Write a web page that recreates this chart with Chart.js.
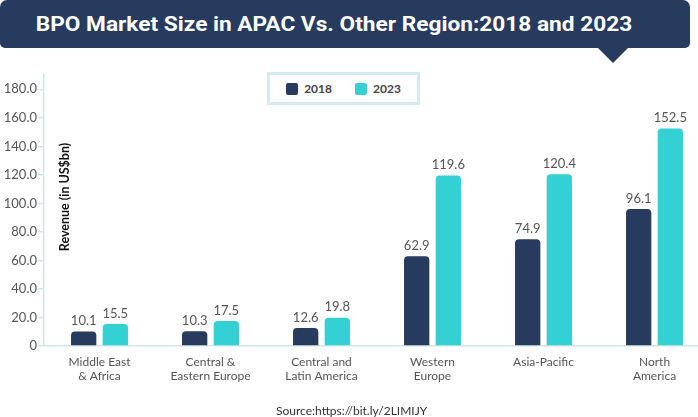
<!DOCTYPE html>
<html>
<head>
<meta charset="utf-8">
<script src="https://cdn.jsdelivr.net/npm/chart.js@4"></script>
<style>
  body { margin: 0; width: 698px; height: 417px; overflow: hidden; background: #fff; position: relative; font-family: Lato, sans-serif; }
  #banner { position: absolute; left: 0; top: 0; width: 690px; height: 48px; background: #263b5e; border-radius: 7px 7px 5px 5px; }
  #banner:after { content: ''; position: absolute; left: 598px; top: 48px; border-left: 15px solid transparent; border-right: 15px solid transparent; border-top: 15px solid #263b5e; }
  #titulo { position: absolute; left: 334px; top: 24px; transform-origin: center; white-space: nowrap; color: #fff; font: bold 21px Roboto, sans-serif; }
  #wrap { position: absolute; left: 0; top: 0; width: 712px; height: 417px; }
  #leyenda { position: absolute; left: 267px; top: 72px; width: 147px; height: 27px; border: 3px solid #d3eaf0; background: #fff;
             display: flex; align-items: center; justify-content: center; gap: 23px; font: bold 12px Lato, sans-serif; color: #444; }
  #leyenda span.item { display: flex; align-items: center; gap: 6px; }
  #leyenda span.caja { width: 12px; height: 12px; border-radius: 2px; display: inline-block; }
  #fuente { position: absolute; left: 276px; top: 403px; font: 12px Lato, sans-serif; color: #333; }
</style>
</head>
<body>
<div id="banner"><div id="titulo">BPO Market Size in APAC Vs. Other Region:2018 and 2023</div></div>
<div id="wrap"><canvas id="grafica" width="712" height="417"></canvas></div>
<div id="leyenda"></div>
<div id="fuente">Source:https://bit.ly/2LIMIJY</div>
<script>
const regiones = [
  ['Middle East', '& Africa'],
  ['Central &', 'Eastern Europe'],
  ['Central and', 'Latin America'],
  ['Western', 'Europe'],
  'Asia-Pacific',
  ['North', 'America']
];
const valores2018 = [10.1, 10.3, 12.6, 62.9, 74.9, 96.1];
const valores2023 = [15.5, 17.5, 19.8, 119.6, 120.4, 152.5];
const series = ['2018', '2023'];
const marcasEje = [0, 20, 40, 60, 80, 100, 120, 140, 160, 180];
const colores = ['#263b5e', '#33d0d4'];
const tituloEje = 'Revenue (in US$bn)';

// ajustar el titulo al ancho del cartel
const titulo = document.getElementById('titulo');
const anchoTitulo = titulo.offsetWidth;
titulo.style.transform = 'translate(-50%, -50%) scaleX(' + (597 / anchoTitulo) + ')';

// leyenda en html
const leyenda = document.getElementById('leyenda');
series.forEach(function(s, i) {
  leyenda.innerHTML += '<span class="item"><span class="caja" style="background:' + colores[i] + '"></span>' + s + '</span>';
});

const etiquetasValor = {
  id: 'etiquetasValor',
  afterDatasetsDraw(chart) {
    const ctx = chart.ctx;
    ctx.save();
    ctx.font = '13px Lato';
    ctx.fillStyle = '#555';
    ctx.textAlign = 'center';
    ctx.textBaseline = 'bottom';
    chart.data.datasets.forEach(function(ds, i) {
      chart.getDatasetMeta(i).data.forEach(function(barra, j) {
        ctx.fillText(ds.data[j].toFixed(1), barra.x, barra.y - 4);
      });
    });
    // titulo del eje y, dentro del area
    ctx.translate(65, 197);
    ctx.rotate(-Math.PI / 2);
    ctx.font = 'bold 12.5px Lato';
    ctx.fillStyle = '#111';
    ctx.textBaseline = 'middle';
    ctx.fillText(tituloEje, 0, 0);
    ctx.restore();
  }
};

new Chart(document.getElementById('grafica'), {
  type: 'bar',
  data: {
    labels: regiones,
    datasets: [
      { label: series[0], data: valores2018, backgroundColor: colores[0], borderRadius: 4, borderSkipped: 'start' },
      { label: series[1], data: valores2023, backgroundColor: colores[1], borderRadius: 4, borderSkipped: 'start' }
    ]
  },
  options: {
    responsive: false,
    animation: false,
    categoryPercentage: 0.57,
    barPercentage: 0.8,
    layout: { padding: { top: 75, right: 2, left: 0, bottom: 0 } },
    plugins: { legend: { display: false }, tooltip: { enabled: false } },
    scales: {
      x: {
        grid: { display: false, drawTicks: false },
        border: { color: '#cfe6ea', width: 1.5 },
        ticks: { color: '#555', font: { family: 'Lato', size: 12 }, padding: 9, maxRotation: 0 },
        afterFit(scale) { scale.height = 71; }
      },
      y: {
        min: 0,
        max: 190,
        grid: { drawOnChartArea: false, tickLength: 6, color: '#cfe6ea', lineWidth: 1.5 },
        border: { color: '#cfe6ea', width: 1.5 },
        ticks: {
          autoSkip: false,
          color: '#555',
          font: { family: 'Lato', size: 13 },
          padding: 1,
          callback: function(v) { return v === 0 ? '0' : v.toFixed(1); }
        },
        afterBuildTicks(scale) { scale.ticks = marcasEje.map(function(v) { return { value: v }; }); },
        afterFit(scale) { scale.width = 44; }
      }
    }
  },
  plugins: [etiquetasValor]
});
</script>
</body>
</html>
